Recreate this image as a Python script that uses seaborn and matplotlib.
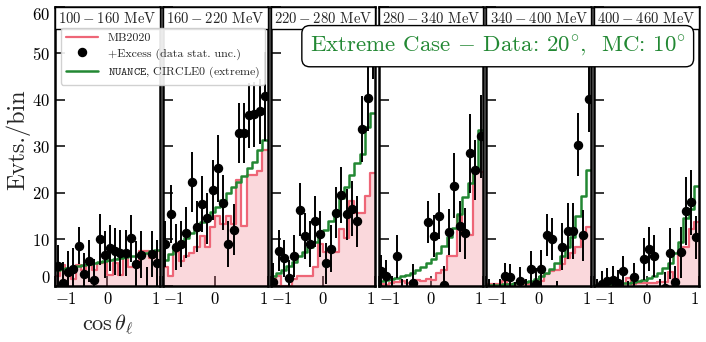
import numpy as np
import pandas as pd
import matplotlib
matplotlib.use("Agg")
import matplotlib.pyplot as plt
import seaborn as sns
from matplotlib.lines import Line2D
from matplotlib.patches import Rectangle

# energy slices (one panel each) and cos(theta) binning
energy_ranges = ["100 - 160", "160 - 220", "220 - 280", "280 - 340", "340 - 400", "400 - 460"]
cos_edges = np.linspace(-1, 1, 21)

# MB2020 prediction, events/bin
mb2020 = [
    [2.0, 4.5, 3.5, 1.5, 4.5, 3.5, 4.5, 3.5, 4.8, 4.8, 2.3, 4.8, 2.3, 6.3, 4.0, 4.0, 7.5, 7.5, 6.0, 7.5],
    [4.1, 2.0, 7.3, 5.3, 6.3, 7.0, 8.4, 10.7, 8.4, 12.7, 15.0, 13.3, 14.9, 13.3, 22.8, 12.9, 23.8, 23.8, 24.6, 29.2],
    [0.0, 2.0, 0.0, 0.0, 1.5, 2.2, 2.0, 2.0, 4.0, 9.0, 7.3, 7.3, 7.3, 12.3, 10.3, 18.3, 15.6, 15.6, 19.2, 24.3],
    [0.3, 0.2, 0.5, 0.8, 1.0, 0.5, 0.8, 1.2, 1.0, 1.5, 1.3, 2.7, 3.5, 6.3, 6.3, 14.9, 10.9, 10.9, 24.5, 24.5],
    [0.3, 0.3, 0.3, 1.0, 0.3, 0.3, 0.3, 0.3, 0.3, 0.5, 1.0, 2.5, 3.2, 3.5, 4.6, 6.0, 7.0, 8.4, 10.6, 12.7],
    [0.1, 0.1, 0.1, 0.1, 0.2, 0.3, 1.7, 0.3, 0.7, 0.7, 0.7, 0.7, 0.8, 0.8, 3.0, 1.2, 6.6, 8.4, 12.3, 13.8],
]

# NUANCE, Circle0 (extreme)
nuance = [
    [3.5, 3.7, 3.9, 4.1, 4.3, 4.5, 4.7, 4.9, 5.1, 5.3, 5.5, 5.7, 5.9, 6.1, 6.3, 6.5, 6.8, 7.1, 7.4, 7.7],
    [5.5, 6.8, 8.1, 9.1, 10.2, 11.3, 12.7, 13.8, 14.9, 15.9, 17.0, 18.4, 19.9, 21.3, 22.4, 23.5, 25.3, 26.7, 29.2, 31.4],
    [2.1, 2.7, 3.4, 4.3, 5.2, 6.3, 7.3, 8.4, 9.5, 10.9, 12.0, 14.0, 16.0, 18.8, 21.3, 23.8, 26.3, 28.3, 34.2, 37.1],
    [1.0, 1.2, 1.4, 1.7, 2.0, 2.4, 2.8, 3.3, 4.0, 4.8, 5.8, 7.0, 8.5, 10.5, 12.5, 15.5, 19.0, 22.0, 25.0, 33.5],
    [0.2, 0.2, 0.25, 0.3, 0.4, 0.5, 0.6, 0.8, 1.0, 1.4, 2.0, 2.7, 3.6, 4.8, 6.3, 8.4, 10.5, 15.0, 19.2, 24.8],
    [0.2, 0.2, 0.3, 0.3, 0.4, 0.5, 0.6, 0.8, 1.0, 1.2, 1.6, 2.0, 2.7, 3.8, 5.0, 7.0, 9.5, 14.5, 16.5, 21.5],
]

# MB2020 + excess, with data stat. unc.
excess = [
    [4.3, 0.7, 3.0, 3.7, 8.6, 2.5, 5.4, 1.2, 10.0, 6.7, 8.1, 7.4, 7.1, 7.1, 10.2, 4.6, 6.7, -1.5, 6.8, 4.8],
    [9.0, 15.4, 8.3, 9.0, 11.4, 22.3, 12.7, 17.5, 14.5, 20.6, 25.3, 17.9, 9.0, 12.1, 32.9, 32.9, 36.7, 36.9, 37.5, 40.7],
    [0.9, 7.5, 5.9, 1.6, 6.4, 16.3, 10.7, 9.0, 13.9, 11.1, 4.8, 8.0, 15.7, 19.5, 15.4, 16.6, 13.9, 33.7, 40.3, 52.0],
    [3.2, 2.0, -1.5, 6.3, -2.0, -2.0, 0.6, -5.0, -5.0, 13.7, 10.7, 15.0, 0.2, 11.6, 21.5, 12.8, 11.3, 28.5, 24.9, 32.1],
    [-1.0, -2.0, -1.0, 2.2, 1.8, -2.0, 1.1, -1.5, 3.7, 0.4, 3.7, 11.0, 10.0, -3.0, 8.4, 11.8, 11.8, 30.3, 10.9, 40.1],
    [-1.0, 0.4, 1.0, 1.3, 0.5, 3.2, -2.0, 1.9, -3.0, 5.7, 7.9, 6.4, -2.0, -0.5, 7.0, 0.8, 7.2, 16.0, 18.0, 10.4],
]
excess_err = [
    [4.5, 4.5, 4.5, 4.5, 4.0, 4.5, 4.5, 4.5, 5.5, 5.0, 5.0, 5.0, 5.0, 5.0, 5.0, 5.0, 5.0, 5.5, 5.0, 5.0],
    [5.0, 6.3, 5.0, 5.0, 5.5, 6.5, 5.5, 6.0, 5.5, 6.5, 7.2, 6.0, 5.0, 5.5, 6.5, 6.5, 7.0, 7.0, 7.0, 9.5],
    [4.0, 4.4, 4.0, 4.0, 4.5, 5.7, 5.0, 5.0, 5.5, 5.0, 4.5, 5.0, 5.5, 6.0, 5.5, 6.0, 5.5, 7.0, 7.0, 7.5],
    [3.5, 3.5, 3.5, 4.7, 3.5, 3.5, 4.0, 4.0, 4.0, 4.5, 4.5, 5.0, 4.0, 5.0, 7.0, 5.5, 5.5, 8.5, 6.5, 9.0],
    [2.5, 2.5, 2.5, 2.7, 2.8, 2.8, 3.0, 3.0, 3.8, 3.5, 4.0, 4.5, 4.5, 4.0, 5.0, 6.0, 6.0, 6.8, 5.5, 7.0],
    [2.5, 2.8, 2.8, 3.0, 3.0, 3.3, 3.0, 3.0, 3.0, 4.5, 4.8, 4.5, 3.5, 3.5, 5.5, 3.5, 5.5, 7.3, 7.0, 4.7],
]

RED = "#EE6677"
GREEN = "#228833"

sns.set_style("ticks")
plt.rcParams["font.family"] = ["cmr10", "DejaVu Serif"]
plt.rcParams["mathtext.fontset"] = "cm"
plt.rcParams["axes.unicode_minus"] = False
plt.rcParams["axes.formatter.use_mathtext"] = True

fig = plt.figure(figsize=(7.06, 3.42), dpi=100)
gs = fig.add_gridspec(1, 6, left=55 / 706, right=699 / 706,
                      bottom=1 - 285.8 / 342, top=1 - 6.7 / 342, wspace=0.03)
axes = [fig.add_subplot(gs[0, i]) for i in range(6)]

centers = (cos_edges[:-1] + cos_edges[1:]) / 2
bin_list = list(cos_edges)

for i, ax in enumerate(axes):
    df = pd.DataFrame({"cos": centers, "mb": mb2020[i], "nu": nuance[i]})
    sns.histplot(data=df, x="cos", weights="mb", bins=bin_list, element="step",
                 fill=True, color=RED, alpha=0.25, linewidth=0, ax=ax)
    sns.histplot(data=df, x="cos", weights="mb", bins=bin_list, element="step",
                 fill=False, color=RED, linewidth=1.6, ax=ax)
    sns.histplot(data=df, x="cos", weights="nu", bins=bin_list, element="step",
                 fill=False, color=GREEN, linewidth=1.8, ax=ax)
    ax.errorbar(centers, excess[i], yerr=excess_err[i], fmt="o", color="black",
                ms=5.8, elinewidth=1.4, capsize=0, zorder=5)

    ax.set_xlim(-1, 1)
    ax.set_ylim(0, 60)
    ax.set_xlabel("")
    ax.set_ylabel("")
    ax.set_xticks([-1, 0, 1])
    xl = ax.set_xticklabels(["$-1$", "$0$", "$1$"], fontsize=12)
    xl[0].set_ha("left")
    xl[-1].set_ha("right")
    ax.set_yticks(range(0, 61, 10))
    ax.tick_params(direction="in", length=7, width=1.1, colors="black",
                   top=False, right=False)
    if i == 0:
        yl = ax.set_yticklabels([f"${v}$" for v in range(0, 61, 10)], fontsize=12)
        yl[0].set_va("bottom")
        yl[-1].set_va("top")
    else:
        ax.tick_params(labelleft=False)
    for sp in ax.spines.values():
        sp.set_visible(True)
        sp.set_color("black")
        sp.set_linewidth(1.8)

    # energy-range tag across the top of the panel
    ax.add_patch(Rectangle((0, 0.921), 1, 0.079, transform=ax.transAxes,
                           facecolor="white", edgecolor="black", lw=1.0, zorder=6))
    lo, hi = energy_ranges[i].split(" - ")
    ax.text(0.5, 0.958, f"${lo} - {hi}$ MeV", transform=ax.transAxes,
            ha="center", va="center", fontsize=10.6, zorder=7)

axes[0].set_ylabel("Evts./bin", fontsize=17.5)
axes[0].yaxis.set_label_coords(-0.235, 0.525)
axes[0].set_xlabel(r"$\cos\theta_\ell$", fontsize=16)

handles = [
    Line2D([], [], color=RED, lw=1.6),
    Line2D([], [], color="black", marker="o", ms=5.8, ls="none"),
    Line2D([], [], color=GREEN, lw=1.8),
]
labels = ["MB2020", "+Excess (data stat. unc.)",
          r"$\mathtt{NUANCE}$, CIRCLE0 (extreme)"]
fig.legend(handles, labels, loc="upper left", bbox_to_anchor=(61 / 706, 1 - 28 / 342),
           borderaxespad=0, fontsize=8.6, handlelength=2.7, handletextpad=0.8,
           labelspacing=0.42, borderpad=0.4, framealpha=0.9)

fig.text(0.705, 0.865, r"Extreme Case $-$ Data: $20^{\circ}$,  MC: $10^{\circ}$",
         color=GREEN, fontsize=16.5, ha="center", va="center",
         bbox=dict(boxstyle="round,pad=0.35", facecolor="white", edgecolor="black", lw=1.0))

fig.savefig("out.png", dpi=100)
